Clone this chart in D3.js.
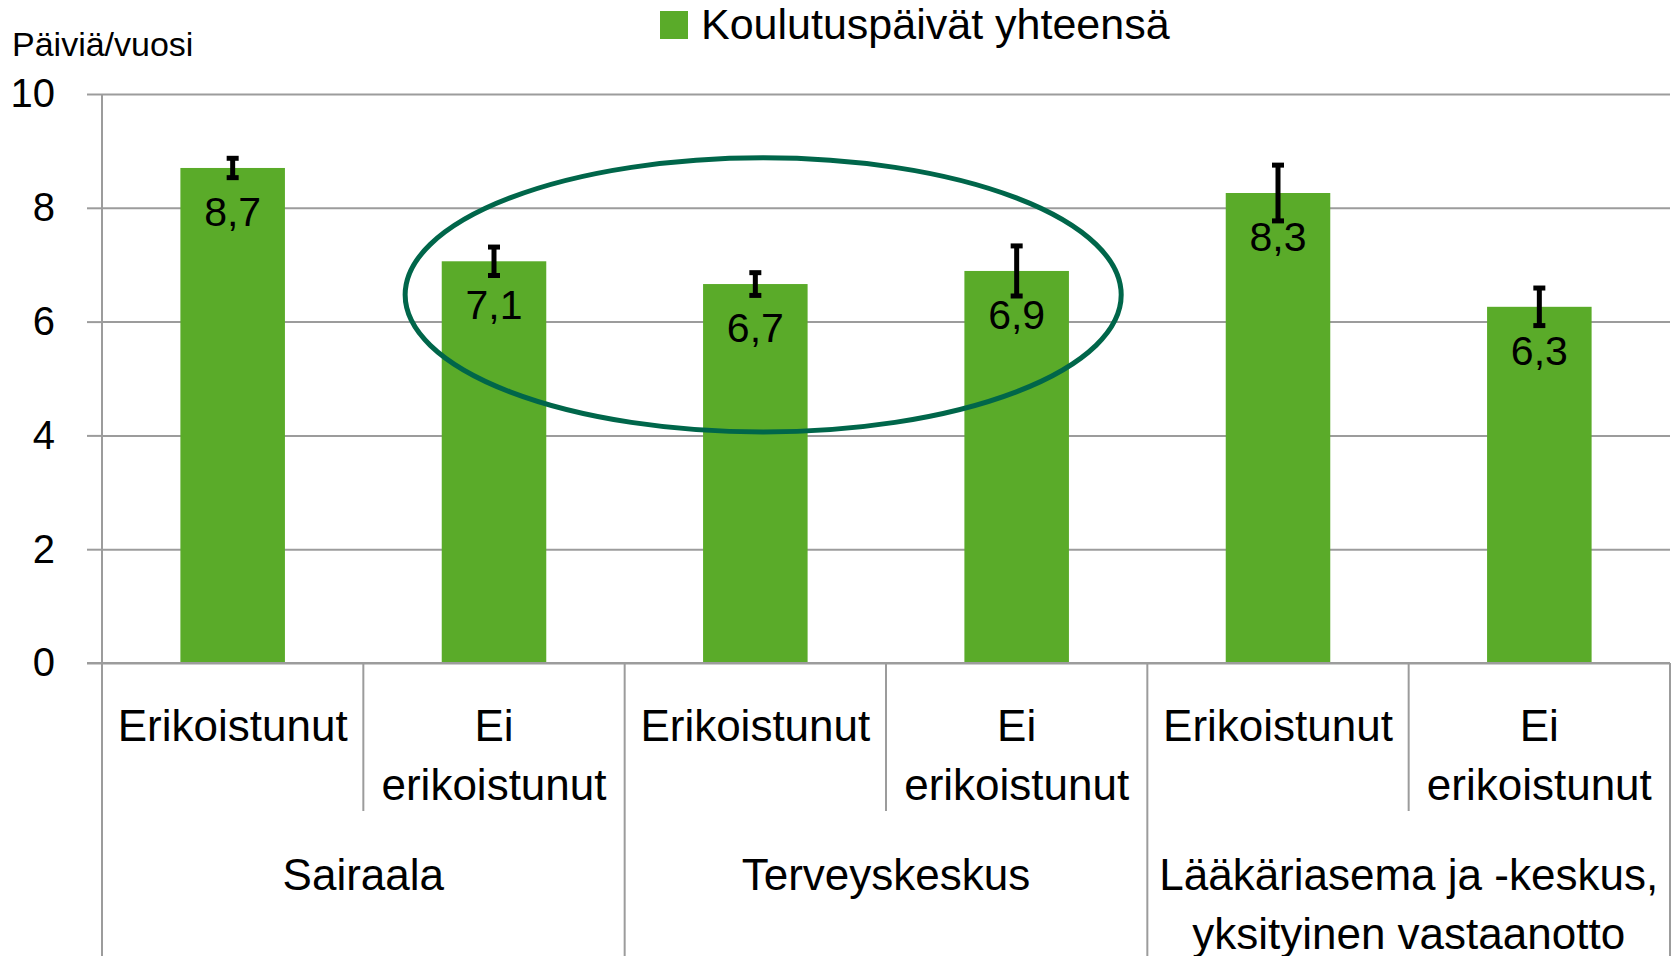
<!DOCTYPE html>
<html>
<head>
<meta charset="utf-8">
<script src="https://cdn.jsdelivr.net/npm/d3@7"></script>
<style>
  body { margin: 0; background: #fff; }
  svg text { font-family: "Liberation Sans", Arial, sans-serif; fill: #000; }
</style>
</head>
<body>
<div id="chart"></div>
<script>
// Data
const groups = ["Sairaala", "Terveyskeskus", "Lääkäriasema ja -keskus,|yksityinen vastaanotto"];
const subgroups = ["Erikoistunut", "Ei|erikoistunut"];
const values = [8.70, 7.06, 6.66, 6.89, 8.26, 6.26];
const errors = [0.17, 0.25, 0.20, 0.44, 0.49, 0.33];
const yTicks = [0, 2, 4, 6, 8, 10];
const seriesName = "Koulutuspäivät yhteensä";
const yLabel = "Päiviä/vuosi";

// categories: every group x subgroup
const categories = [];
groups.forEach((g, gi) => subgroups.forEach((s, si) => categories.push({ id: gi + "-" + si, group: g, sub: s, gi: gi })));
categories.forEach((c, i) => { c.value = values[i]; c.err = errors[i]; });

// SVG dimensions
const width = 1673;
const height = 956;
const margin = { left: 102, right: 3, top: 94, bottom: 293 };
const plotW = width - margin.left - margin.right;
const plotH = height - margin.top - margin.bottom;

const green = "#5aab29";
const gridColor = "#9c9c9c";

const svg = d3.select("#chart")
    .append("svg")
    .attr("width", width)
    .attr("height", height);

const xScale = d3.scaleBand()
    .domain(categories.map(d => d.id))
    .range([margin.left, margin.left + plotW])
    .paddingInner(0.6)
    .paddingOuter(0.3);

const yScale = d3.scaleLinear()
    .domain([0, 10])
    .range([margin.top + plotH, margin.top]);

// gridlines
svg.append("g")
    .attr("transform", `translate(${margin.left},0)`)
    .call(d3.axisLeft(yScale).tickValues(yTicks).tickSize(-plotW).tickFormat(""))
    .call(g => g.select(".domain").remove())
    .call(g => g.selectAll("line").attr("stroke", gridColor).attr("stroke-width", 2));

// y axis ticks + labels
svg.append("g")
    .attr("class", "y-axis")
    .attr("transform", `translate(${margin.left},0)`)
    .call(d3.axisLeft(yScale).tickValues(yTicks).tickSize(15).tickPadding(32))
    .call(g => g.select(".domain").remove())
    .call(g => g.selectAll("line").attr("stroke", gridColor).attr("stroke-width", 2))
    .call(g => g.selectAll("text").attr("font-size", 40).attr("fill", "#000")
        .style("font-family", "'Liberation Sans', Arial, sans-serif"));

// y axis line down to bottom
svg.append("line")
    .attr("x1", margin.left).attr("x2", margin.left)
    .attr("y1", margin.top).attr("y2", height)
    .attr("stroke", gridColor).attr("stroke-width", 2);

// y label
svg.append("text")
    .attr("x", 12)
    .attr("y", 56)
    .attr("font-size", 34)
    .text(yLabel);

// bars
svg.selectAll(".bar")
    .data(categories)
    .enter()
    .append("rect")
    .attr("class", "bar")
    .attr("x", d => xScale(d.id))
    .attr("width", xScale.bandwidth())
    .attr("y", d => yScale(d.value))
    .attr("height", d => yScale(0) - yScale(d.value))
    .attr("fill", green);

// value labels
svg.selectAll(".value")
    .data(categories)
    .enter()
    .append("text")
    .attr("class", "value")
    .attr("x", d => xScale(d.id) + xScale.bandwidth() / 2)
    .attr("y", d => yScale(d.value) + 58)
    .attr("text-anchor", "middle")
    .attr("font-size", 41)
    .text(d => d.value.toFixed(1).replace(".", ","));

// error bars
const errG = svg.selectAll(".err")
    .data(categories)
    .enter()
    .append("g")
    .attr("class", "err")
    .attr("transform", d => `translate(${xScale(d.id) + xScale.bandwidth() / 2},0)`);
errG.append("line")
    .attr("y1", d => yScale(d.value + d.err))
    .attr("y2", d => yScale(d.value - d.err))
    .attr("stroke", "#000").attr("stroke-width", 5);
errG.selectAll(".cap")
    .data(d => [d.value + d.err, d.value - d.err])
    .enter()
    .append("line")
    .attr("x1", -6).attr("x2", 6)
    .attr("y1", v => yScale(v)).attr("y2", v => yScale(v))
    .attr("stroke", "#000").attr("stroke-width", 5);

// x axis baseline
svg.append("line")
    .attr("x1", margin.left - 15).attr("x2", margin.left + plotW)
    .attr("y1", yScale(0)).attr("y2", yScale(0))
    .attr("stroke", gridColor).attr("stroke-width", 2);

// category separators
const step = xScale.step();
const edge = i => margin.left + i * step;
const subBottom = 811;
d3.range(categories.length + 1).forEach(i => {
    const isGroup = i % subgroups.length === 0;
    svg.append("line")
        .attr("x1", edge(i)).attr("x2", edge(i))
        .attr("y1", yScale(0)).attr("y2", isGroup ? height : subBottom)
        .attr("stroke", gridColor).attr("stroke-width", 2);
});

// sub category labels
const subLabels = svg.selectAll(".sublabel")
    .data(categories)
    .enter()
    .append("text")
    .attr("class", "sublabel")
    .attr("text-anchor", "middle")
    .attr("font-size", 44);
subLabels.selectAll("tspan")
    .data(d => d.sub.split("|").map(t => ({ t, x: xScale(d.id) + xScale.bandwidth() / 2 })))
    .enter()
    .append("tspan")
    .attr("x", d => d.x)
    .attr("y", (d, i) => 741 + i * 58.5)
    .text(d => d.t);

// group labels
const groupLabels = svg.selectAll(".grouplabel")
    .data(groups)
    .enter()
    .append("text")
    .attr("class", "grouplabel")
    .attr("text-anchor", "middle")
    .attr("font-size", 44);
groupLabels.selectAll("tspan")
    .data((g, gi) => g.split("|").map(t => ({ t, x: (edge(gi * subgroups.length) + edge((gi + 1) * subgroups.length)) / 2 })))
    .enter()
    .append("tspan")
    .attr("x", d => d.x)
    .attr("y", (d, i) => 890 + i * 58.5)
    .text(d => d.t);

// highlight ellipse around the non-hospital-specialist comparison
const hlFrom = 1, hlTo = 3, hlCenter = 6.47, hlHalf = 2.41;
const cFrom = xScale(categories[hlFrom].id) + xScale.bandwidth() / 2;
const cTo = xScale(categories[hlTo].id) + xScale.bandwidth() / 2;
svg.append("ellipse")
    .attr("cx", (cFrom + cTo) / 2 + 0.03 * step)
    .attr("cy", yScale(hlCenter))
    .attr("rx", (cTo - cFrom) / 2 + 0.37 * step)
    .attr("ry", yScale(hlCenter - hlHalf) - yScale(hlCenter))
    .attr("fill", "none")
    .attr("stroke", "#00664a")
    .attr("stroke-width", 5);

// legend
const legend = svg.append("g").attr("transform", "translate(660,11)");
legend.append("rect")
    .attr("width", 28).attr("height", 28)
    .attr("fill", green);
legend.append("text")
    .attr("x", 41)
    .attr("y", 28)
    .attr("font-size", 43)
    .text(seriesName);
</script>
</body>
</html>
